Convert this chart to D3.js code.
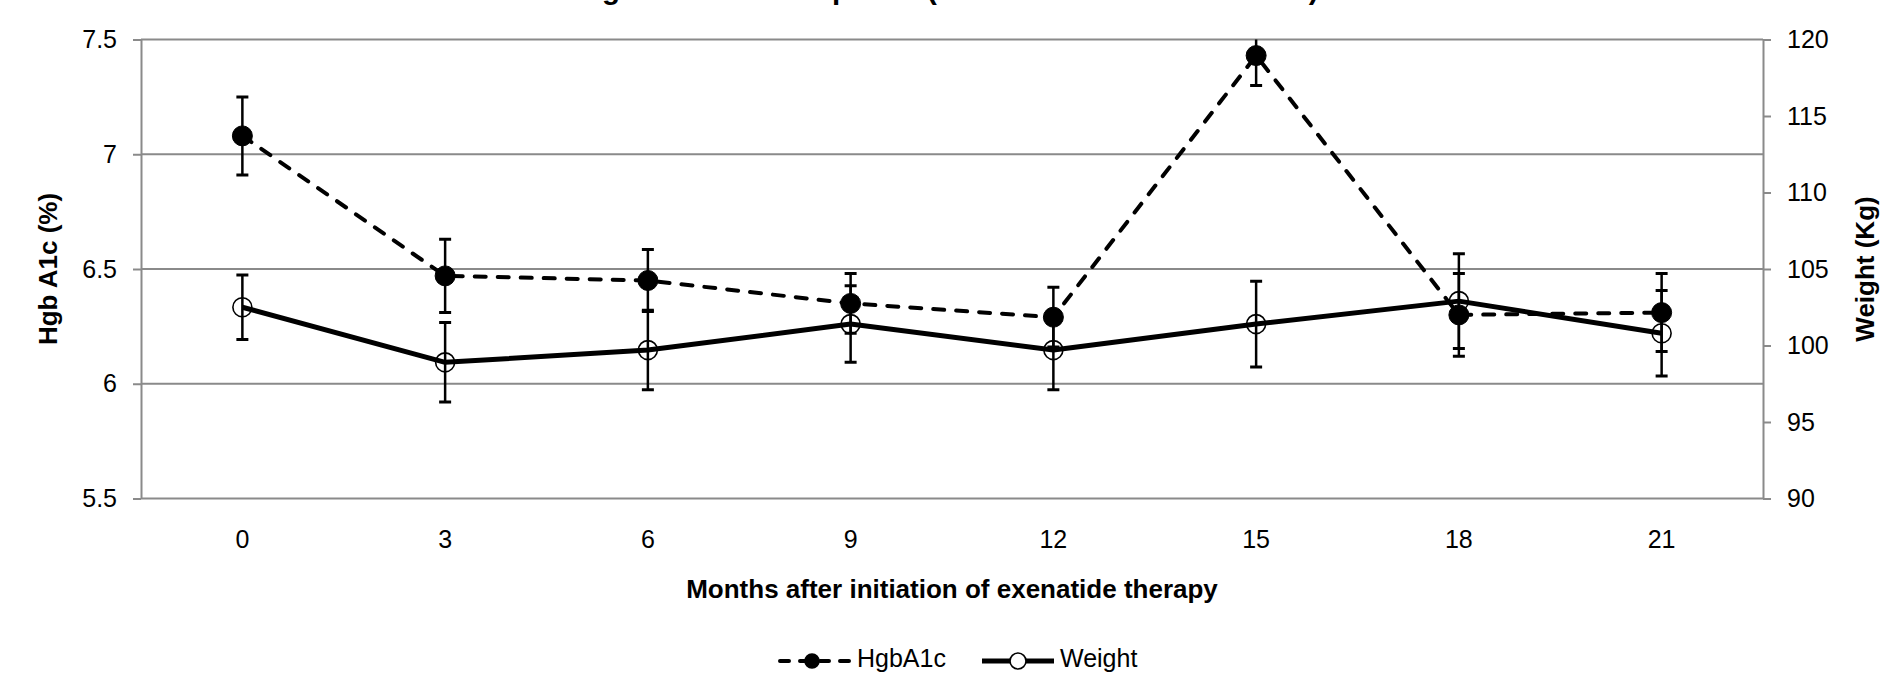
<!DOCTYPE html>
<html>
<head>
<meta charset="utf-8">
<script src="https://cdn.jsdelivr.net/npm/d3@7"></script>
<style>body{margin:0;background:#fff;}</style>
</head>
<body>
<script>
// ---- data ----
const months = [0, 3, 6, 9, 12, 15, 18, 21];
const hgbA1c = [7.08, 6.47, 6.45, 6.35, 6.29, 7.43, 6.30, 6.31];
const hgbA1cErr = [0.17, 0.16, 0.135, 0.13, 0.13, 0.13, 0.18, 0.17];
const weight = [102.5, 98.9, 99.7, 101.4, 99.7, 101.4, 102.9, 100.8];
const weightErr = [2.1, 2.6, 2.6, 2.5, 2.6, 2.8, 3.1, 2.8];
const leftTicks = [5.5, 6, 6.5, 7, 7.5];
const rightTicks = [90, 95, 100, 105, 110, 115, 120];
const seriesNames = ["HgbA1c", "Weight"];
const titleText = "Weight and A1c Response (mean ± standard deviation)";
const xTitle = "Months after initiation of exenatide therapy";
const yLeftTitle = "Hgb A1c (%)";
const yRightTitle = "Weight (Kg)";

// ---- layout ----
const W = 1886, H = 675;
const m = {left: 141, right: 1763, top: 39.5, bottom: 498.5};
const GRID = "#8a8a8a";
const FONT = "'Liberation Sans', Arial, Helvetica, sans-serif";

const svg = d3.select("body").append("svg")
  .attr("width", W).attr("height", H)
  .style("font-family", FONT);

const x = d3.scaleBand().domain(months).range([m.left, m.right]).padding(0);
const cx = d => x(d) + x.bandwidth() / 2;
const yL = d3.scaleLinear().domain([5.5, 7.5]).range([m.bottom, m.top]);
const yR = d3.scaleLinear().domain([90, 120]).range([m.bottom, m.top]);

// title (mostly above the visible area, as in the reference)
svg.append("text").attr("x", 550).attr("y", -1.5)
  .attr("font-size", 29.5).attr("font-weight", "bold").attr("fill", "#000")
  .text(titleText);

// gridlines
svg.append("g").selectAll("line").data(leftTicks).join("line")
  .attr("x1", m.left).attr("x2", m.right)
  .attr("y1", d => yL(d)).attr("y2", d => yL(d))
  .attr("stroke", GRID).attr("stroke-width", 2);

// left axis
const gl = svg.append("g").attr("transform", `translate(${m.left},0)`)
  .call(d3.axisLeft(yL).tickValues(leftTicks).tickSizeInner(8).tickSizeOuter(0).tickPadding(16).tickFormat(d => String(d)));
// right axis
const gr = svg.append("g").attr("transform", `translate(${m.right},0)`)
  .call(d3.axisRight(yR).tickValues(rightTicks).tickSizeInner(8).tickSizeOuter(0).tickPadding(16).tickFormat(d => String(d)));
// bottom axis (labels only)
const gb = svg.append("g").attr("transform", `translate(0,${m.bottom})`)
  .call(d3.axisBottom(x).tickSize(0).tickPadding(32).tickFormat(d => String(d)));
gb.select(".domain").remove();

[gl, gr, gb].forEach(g => {
  g.selectAll(".domain").attr("stroke", GRID).attr("stroke-width", 2);
  g.selectAll(".tick line").attr("stroke", GRID).attr("stroke-width", 2);
  g.selectAll("text").attr("font-size", 25).attr("fill", "#000").attr("font-family", FONT);
});

// axis titles
svg.append("text").attr("x", (m.left + m.right) / 2).attr("y", 598)
  .attr("text-anchor", "middle").attr("font-size", 26).attr("font-weight", "bold")
  .text(xTitle);
svg.append("text").attr("transform", `translate(47.5,${(m.top + m.bottom) / 2}) rotate(-90)`)
  .attr("text-anchor", "middle").attr("dominant-baseline", "central")
  .attr("font-size", 26).attr("font-weight", "bold").text(yLeftTitle);
svg.append("text").attr("transform", `translate(1865,${(m.top + m.bottom) / 2}) rotate(-90)`)
  .attr("text-anchor", "middle").attr("dominant-baseline", "central")
  .attr("font-size", 26).attr("font-weight", "bold").text(yRightTitle);

// clip for error bars
svg.append("clipPath").attr("id", "plotclip").append("rect")
  .attr("x", 0).attr("y", m.top).attr("width", W).attr("height", m.bottom - m.top);

function drawSeries(vals, errs, y, opts) {
  const g = svg.append("g");
  const idx = d3.range(vals.length);
  const line = d3.line().x(i => cx(months[i])).y(i => y(vals[i]));
  g.append("path").datum(idx).attr("d", line)
    .attr("fill", "none").attr("stroke", "#000").attr("stroke-width", opts.lw)
    .attr("stroke-dasharray", opts.dash || null).attr("stroke-linecap", opts.dash ? "round" : "butt")
    .attr("stroke-linejoin", "round");
  const eb = g.append("g").attr("clip-path", "url(#plotclip)");
  const bars = eb.selectAll("g").data(idx).join("g");
  bars.append("line")
    .attr("x1", i => cx(months[i])).attr("x2", i => cx(months[i]))
    .attr("y1", i => y(vals[i] - errs[i])).attr("y2", i => y(vals[i] + errs[i]))
    .attr("stroke", "#000").attr("stroke-width", 2.5);
  [-1, 1].forEach(s => {
    bars.append("line")
      .attr("x1", i => cx(months[i]) - 6).attr("x2", i => cx(months[i]) + 6)
      .attr("y1", i => y(vals[i] + s * errs[i])).attr("y2", i => y(vals[i] + s * errs[i]))
      .attr("stroke", "#000").attr("stroke-width", 3);
  });
  g.selectAll("circle").data(idx).join("circle")
    .attr("cx", i => cx(months[i])).attr("cy", i => y(vals[i]))
    .attr("r", opts.r)
    .attr("fill", opts.filled ? "#000" : "none")
    .attr("stroke", "#000").attr("stroke-width", opts.filled ? 1 : 1.6);
}

drawSeries(weight, weightErr, yR, {lw: 5, r: 9.5, filled: false});
drawSeries(hgbA1c, hgbA1cErr, yL, {lw: 4, r: 10, filled: true, dash: "11,12"});

// legend
const legY = 661;
const leg = [
  {name: seriesNames[0], x0: 780, x1: 851, mx: 812, dash: "9,11", lw: 4, filled: true, r: 7, tx: 857},
  {name: seriesNames[1], x0: 982, x1: 1054, mx: 1018, dash: null, lw: 5, filled: false, r: 8, tx: 1060}
];
const lg = svg.append("g").selectAll("g").data(leg).join("g");
lg.append("line").attr("x1", d => d.x0).attr("x2", d => d.x1).attr("y1", legY).attr("y2", legY)
  .attr("stroke", "#000").attr("stroke-width", d => d.lw)
  .attr("stroke-dasharray", d => d.dash).attr("stroke-linecap", d => d.dash ? "round" : "butt");
lg.append("circle").attr("cx", d => d.mx).attr("cy", legY).attr("r", d => d.r)
  .attr("fill", d => d.filled ? "#000" : "#fff").attr("stroke", "#000").attr("stroke-width", 1.6);
lg.append("text").attr("x", d => d.tx).attr("y", 667)
  .attr("font-size", 25).attr("fill", "#000").text(d => d.name);
</script>
</body>
</html>
